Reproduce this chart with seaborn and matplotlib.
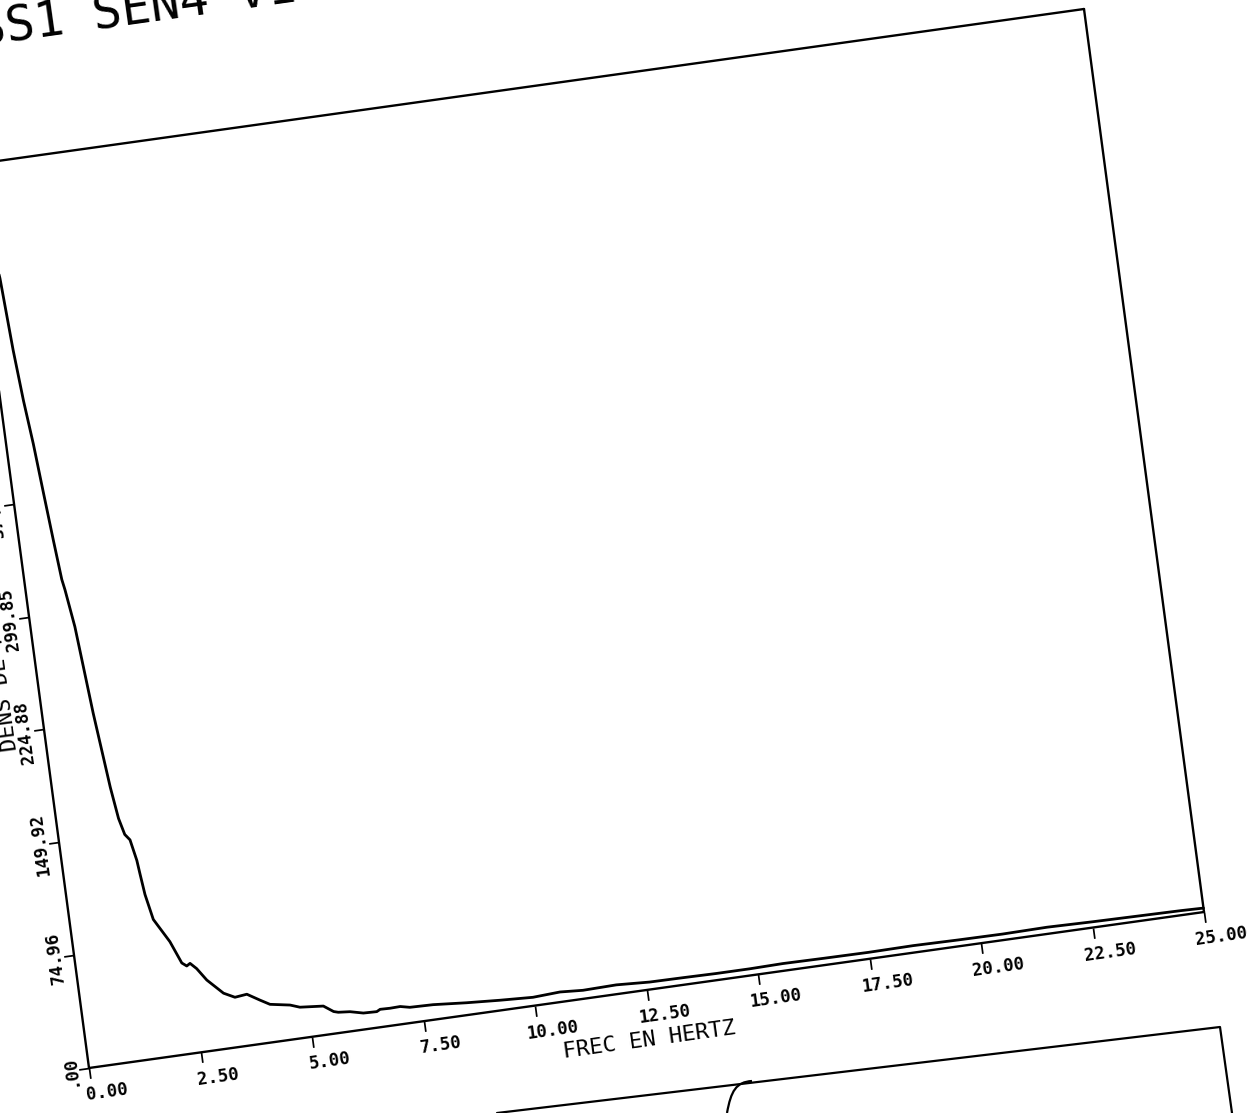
import numpy as np
import matplotlib
matplotlib.use("Agg")
import matplotlib.pyplot as plt
import seaborn as sns
from matplotlib.transforms import Affine2D
from matplotlib.path import Path
from matplotlib.patches import PathPatch
from matplotlib.lines import Line2D
import mpl_toolkits.axisartist.floating_axes as floating_axes
from mpl_toolkits.axisartist.grid_finder import FixedLocator, DictFormatter

# Spectral density estimate (frequency in Hz, density)
freq_hz = [0.00, 0.18, 0.35, 0.43, 0.51, 0.60, 0.68, 0.76, 0.83, 0.87,
           0.98, 1.05, 1.13, 1.21, 1.29, 1.38, 1.47, 1.57, 1.66, 1.69,
           1.74, 1.85, 2.15, 2.35, 2.45, 2.53, 2.66, 2.85, 3.18, 3.42,
           3.69, 3.96, 4.17, 4.61, 4.82, 5.34, 5.55, 5.65, 5.91, 6.20,
           6.50, 6.58, 6.80, 7.03, 7.24, 7.76, 8.50, 9.24, 9.98, 10.59,
           11.10, 11.85, 12.59, 13.34, 14.09, 14.83, 15.58, 16.50, 17.50, 18.50,
           19.50, 20.50, 21.50, 22.50, 23.50, 24.50, 25.00]
density = [599.68, 568.0, 523.0, 475.0, 441.0, 412.0, 379.0, 347.0, 321.0, 314.0,
           289.0, 262.0, 231.0, 206.0, 181.0, 160.0, 149.0, 145.0, 131.0, 122.0,
           108.0, 91.0, 75.0, 60.0, 57.6, 59.0, 55.0, 46.6, 36.5, 32.8,
           33.7, 28.7, 25.0, 22.7, 20.4, 19.0, 14.5, 13.6, 12.9, 10.8,
           10.5, 11.7, 11.5, 11.7, 10.3, 9.9, 8.1, 6.7, 5.6, 6.6,
           5.6, 6.1, 4.9, 4.7, 4.4, 4.4, 4.8, 4.5, 4.3, 4.6,
           4.2, 4.0, 4.4, 3.8, 3.4, 3.0, 2.6]

x_ticks = [0.0, 2.5, 5.0, 7.5, 10.0, 12.5, 15.0, 17.5, 20.0, 22.5, 25.0]
x_tick_labels = ["0.00", "2.50", "5.00", "7.50", "10.00", "12.50",
                 "15.00", "17.50", "20.00", "22.50", "25.00"]
y_ticks = [0.0, 74.96, 149.92, 224.88, 299.84, 374.80, 449.76, 524.72, 599.68]
y_tick_labels = [".00", "74.96", "149.92", "224.88", "299.85",
                 "374.80", "449.76", "524.72", "599.68"]

title_text = "SS1 SEN4 V1"
x_label = "FREC EN HERTZ"
y_label = "DENS DE POT"

W, H = 1254, 1113
sns.set_theme(style="white")
plt.rcParams["font.family"] = ["DejaVu Sans Mono", "DejaVu Sans"]

fig = plt.figure(figsize=(W / 100, H / 100), dpi=100)
fig.patch.set_facecolor("white")

# Plot frame sits tilted on the page: pixel position of the origin and
# the pixel vectors spanned by the two axes (y measured upwards).
origin = (89.0, 45.0)
x_vec = (1115.0, 156.0)
y_vec = (-120.0, 903.0)
fmax, dmax = x_ticks[-1], y_ticks[-1]
tr = Affine2D(np.array([[x_vec[0] / fmax, y_vec[0] / dmax, origin[0]],
                        [x_vec[1] / fmax, y_vec[1] / dmax, origin[1]],
                        [0.0, 0.0, 1.0]]))

grid_helper = floating_axes.GridHelperCurveLinear(
    tr, extremes=(0.0, fmax, 0.0, dmax),
    grid_locator1=FixedLocator(x_ticks),
    tick_formatter1=DictFormatter(dict(zip(x_ticks, x_tick_labels))),
    grid_locator2=FixedLocator(y_ticks),
    tick_formatter2=DictFormatter(dict(zip(y_ticks, y_tick_labels))))

ax = fig.add_axes([0, 0, 1, 1], axes_class=floating_axes.FloatingAxes,
                  grid_helper=grid_helper)
ax.set_aspect("auto")
ax.set_xlim(0, W)
ax.set_ylim(0, H)
ax.patch.set_facecolor("white")

aux = ax.get_aux_axes(tr)
sns.lineplot(x=freq_hz, y=density, ax=aux, color="black",
             linewidth=2.0, estimator=None, sort=False)

for side in ["top", "right"]:
    ax.axis[side].toggle(ticks=False, ticklabels=False, label=False)
for side in ["bottom", "left", "top", "right"]:
    ax.axis[side].line.set_linewidth(1.7)
    ax.axis[side].line.set_color("black")
for side in ["bottom", "left"]:
    a = ax.axis[side]
    a.major_ticks.set_tick_out(True)
    a.major_ticks.set_ticksize(7.5)
    a.major_ticks.set_linewidth(1.6)
    a.major_ticks.set_color("black")
    a.major_ticklabels.set_visible(False)
    a.label.set_visible(False)

angle_x = np.degrees(np.arctan2(x_vec[1], x_vec[0]))
angle_y = np.degrees(np.arctan2(y_vec[1], y_vec[0]))

# Tick labels written along the tilted axes
tick_font = dict(fontsize=12.5, fontweight="bold", color="black")
for t, lab in zip(x_ticks, x_tick_labels):
    aux.text(t + 0.32, -17.5, lab, rotation=angle_x, rotation_mode="anchor",
             ha="center", va="center", **tick_font)
for t, lab in zip(y_ticks, y_tick_labels):
    aux.text(-0.42, t, lab, rotation=angle_y, rotation_mode="anchor",
             ha="center", va="center", **tick_font)

aux.text(12.41, -32.8, x_label, rotation=angle_x, rotation_mode="anchor",
         ha="center", va="center", fontsize=16, color="black")
aux.text(-0.655, 214.0, y_label, rotation=angle_y, rotation_mode="anchor",
         ha="left", va="baseline", fontsize=16, color="black")

fig.text(-20.7 / W, 1066 / H, title_text, rotation=8, rotation_mode="anchor",
         ha="left", va="baseline", fontsize=35, color="black")

# Edge of the neighbouring frame on the same sheet
fig.add_artist(Line2D([497 / W, 1220 / W, 1232 / W], [0 / H, 86 / H, 0 / H],
                      transform=fig.transFigure, color="black", linewidth=1.6))
corner = Path([(727 / W, 0.0), (731 / W, 22 / H), (736 / W, 31 / H), (752 / W, 32 / H)],
              [Path.MOVETO, Path.CURVE4, Path.CURVE4, Path.CURVE4])
fig.add_artist(PathPatch(corner, transform=fig.transFigure, facecolor="none",
                         edgecolor="black", linewidth=1.6))

fig.savefig("out.png", dpi=100, facecolor="white")
